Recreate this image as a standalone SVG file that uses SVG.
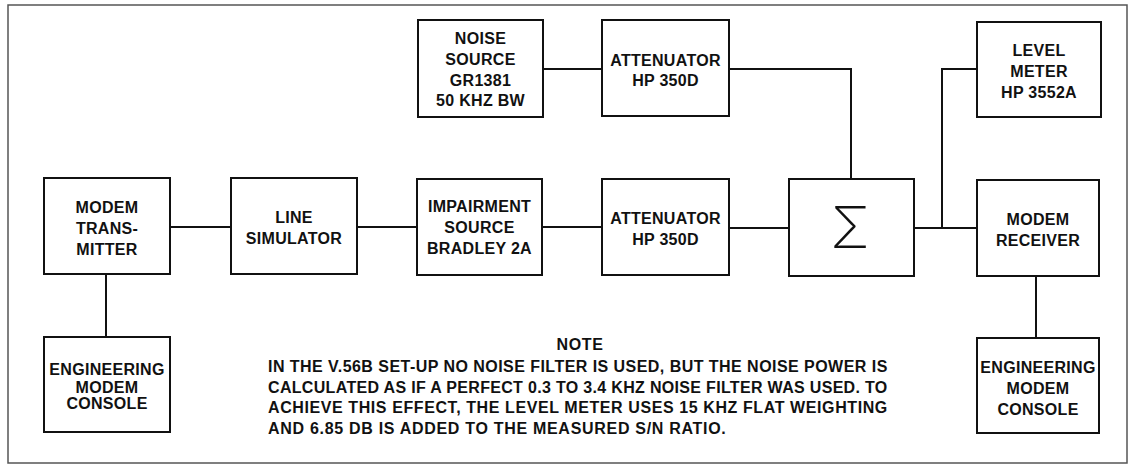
<svg xmlns="http://www.w3.org/2000/svg" width="1132" height="466" viewBox="0 0 1132 466">
<style>
.box{fill:#fff;stroke:#111;stroke-width:2}
.t{font-family:"Liberation Sans",Arial,sans-serif;font-weight:bold;font-size:16px;fill:#111;text-anchor:middle;letter-spacing:0.3px}
.n{font-family:"Liberation Sans",Arial,sans-serif;font-weight:bold;font-size:16px;fill:#111;letter-spacing:0.7px}
.c{fill:none;stroke:#111;stroke-width:2}
</style>
<rect x="0" y="0" width="1132" height="466" fill="#fff"/>
<rect id="frame" x="8" y="5" width="1119" height="458" fill="none" stroke="#555" stroke-width="1.5"/>
<g id="connectors" class="c">
<path d="M170 227H231"/>
<path d="M357 227H417"/>
<path d="M542 227H602"/>
<path d="M729 228H789"/>
<path d="M914 228H977"/>
<path d="M543 69H602"/>
<path d="M729 69H851V179"/>
<path d="M942 228V69H977"/>
<path d="M106 274V337"/>
<path d="M1036 276V338"/>
</g>
<g id="modem-transmitter"><rect class="box" x="44" y="178" width="126" height="96"/>
<text class="t" x="107" y="213">MODEM</text><text class="t" x="107" y="234">TRANS-</text><text class="t" x="107" y="255">MITTER</text></g>
<g id="line-simulator"><rect class="box" x="231" y="178" width="126" height="96"/>
<text class="t" x="294" y="223">LINE</text><text class="t" x="294" y="244">SIMULATOR</text></g>
<g id="impairment-source"><rect class="box" x="417" y="179" width="125" height="96"/>
<text class="t" x="479.5" y="212">IMPAIRMENT</text><text class="t" x="479.5" y="233">SOURCE</text><text class="t" x="479.5" y="254">BRADLEY 2A</text></g>
<g id="attenuator-lower"><rect class="box" x="602" y="179" width="127" height="96"/>
<text class="t" x="665.5" y="224">ATTENUATOR</text><text class="t" x="665.5" y="245">HP 350D</text></g>
<g id="noise-source"><rect class="box" x="418" y="20" width="125" height="97"/>
<text class="t" x="480.5" y="44">NOISE</text><text class="t" x="480.5" y="65">SOURCE</text><text class="t" x="480.5" y="86">GR1381</text><text class="t" x="480.5" y="106">50 KHZ BW</text></g>
<g id="attenuator-upper"><rect class="box" x="602" y="20" width="127" height="96"/>
<text class="t" x="665.5" y="66">ATTENUATOR</text><text class="t" x="665.5" y="86">HP 350D</text></g>
<g id="summer"><rect class="box" x="789" y="179" width="125" height="97"/>
<text x="850" y="248" font-family="Inter,'DejaVu Sans',sans-serif" font-weight="200" font-size="58" text-anchor="middle" fill="#111">Σ</text></g>
<g id="level-meter"><rect class="box" x="977" y="22" width="124" height="95"/>
<text class="t" x="1039" y="56">LEVEL</text><text class="t" x="1039" y="77">METER</text><text class="t" x="1039" y="98">HP 3552A</text></g>
<g id="modem-receiver"><rect class="box" x="977" y="180" width="122" height="96"/>
<text class="t" x="1038" y="225">MODEM</text><text class="t" x="1038" y="246">RECEIVER</text></g>
<g id="console-left"><rect class="box" x="44" y="337" width="126" height="95"/>
<text class="t" x="107" y="375">ENGINEERING</text><text class="t" x="107" y="393">MODEM</text><text class="t" x="107" y="409">CONSOLE</text></g>
<g id="console-right"><rect class="box" x="977" y="338" width="122" height="95"/>
<text class="t" x="1038" y="373">ENGINEERING</text><text class="t" x="1038" y="394">MODEM</text><text class="t" x="1038" y="415">CONSOLE</text></g>
<g id="note">
<text class="n" x="580" y="350" text-anchor="middle">NOTE</text>
<text class="n" x="268" y="372" textLength="620" lengthAdjust="spacing">IN THE V.56B SET-UP NO NOISE FILTER IS USED, BUT THE NOISE POWER IS</text>
<text class="n" x="268" y="393" textLength="620" lengthAdjust="spacing">CALCULATED AS IF A PERFECT 0.3 TO 3.4 KHZ NOISE FILTER WAS USED. TO</text>
<text class="n" x="268" y="413" textLength="620" lengthAdjust="spacing">ACHIEVE THIS EFFECT, THE LEVEL METER USES 15 KHZ FLAT WEIGHTING</text>
<text class="n" x="268" y="434">AND 6.85 DB IS ADDED TO THE MEASURED S/N RATIO.</text>
</g>
</svg>
